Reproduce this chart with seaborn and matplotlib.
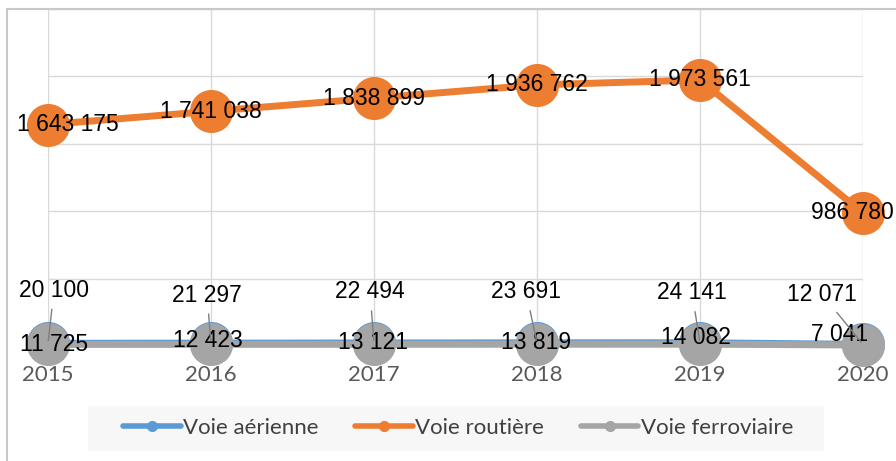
import matplotlib
matplotlib.use("Agg")
import matplotlib.pyplot as plt
import seaborn as sns
import pandas as pd
from matplotlib.lines import Line2D
from matplotlib.patches import Rectangle

years = ["2015", "2016", "2017", "2018", "2019", "2020"]
series_names = ["Voie aérienne", "Voie routière", "Voie ferroviaire"]
aerienne = [20100, 21297, 22494, 23691, 24141, 12071]
routiere = [1643175, 1741038, 1838899, 1936762, 1973561, 986780]
ferroviaire = [11725, 12423, 13121, 13819, 14082, 7041]
colors = ["#5B9BD5", "#ED7D31", "#A5A5A5"]

# label offsets in pixels (layout only)
off_aer = [(6, 53), (-4, 48), (-4, 51), (-11, 51), (-8, 50), (-41, 50)]
off_rou = [(20, 0), (0, 0), (0, 0), (0, 0), (0, 0), (-11, 0)]
off_fer = [(6, 0), (-3, 4), (-1, 2), (-1, 2), (-4, 7), (-23, 11)]

W, H = 896, 461
sns.set_theme(style="white")
plt.rcParams["font.family"] = ["Liberation Sans", "DejaVu Sans"]

fig = plt.figure(figsize=(W / 100, H / 100), dpi=100)
ax = fig.add_axes([48 / W, 1 - 346 / H, (863 - 48) / W, (346 - 9) / H])

rows = []
for name, vals in zip(series_names, [aerienne, routiere, ferroviaire]):
    for i, v in enumerate(vals):
        rows.append({"pos": i, "val": v, "serie": name})
df = pd.DataFrame(rows)

sns.lineplot(data=df, x="pos", y="val", hue="serie", hue_order=series_names,
             palette=colors, marker="o", markersize=31, linewidth=5,
             markeredgewidth=0, ax=ax, legend=False, clip_on=False, zorder=3)

ax.set_xlim(0, 5)
ax.set_ylim(0, 2500000)
ax.set_yticks(range(0, 2500001, 500000))
ax.set_yticklabels([])
ax.set_xticks(range(6))
ax.set_xticklabels(years, fontsize=16, color="#595959", family=["Lato", "DejaVu Sans"])
ax.tick_params(axis="x", length=0, pad=14)
ax.tick_params(axis="y", length=0)
ax.set_xlabel("")
ax.set_ylabel("")
ax.grid(True, color="#d9d9d9", linewidth=1)
for s in ["top", "right", "left"]:
    ax.spines[s].set_visible(False)
ax.spines["bottom"].set_color("#7f7f7f")
ax.spines["bottom"].set_linewidth(1)

def fmt(v):
    return f"{v:,}".replace(",", " ")

for i, v in enumerate(routiere):
    dx, dy = off_rou[i]
    ax.annotate(fmt(v), xy=(i, v), xytext=(dx, dy), textcoords="offset pixels",
                ha="center", va="center", fontsize=16.5, color="black", zorder=6)
for i, v in enumerate(ferroviaire):
    dx, dy = off_fer[i]
    ax.annotate(fmt(v), xy=(i, v), xytext=(dx, dy), textcoords="offset pixels",
                ha="center", va="center", fontsize=16.5, color="black", zorder=6)
for i, v in enumerate(aerienne):
    dx, dy = off_aer[i]
    ax.annotate(fmt(v), xy=(i, v), xytext=(dx, dy), textcoords="offset pixels",
                ha="center", va="center", fontsize=16.5, color="black", zorder=6,
                arrowprops=dict(arrowstyle="-", color="#7f7f7f", lw=1,
                                shrinkA=3, shrinkB=2))

# outer chart border (left and top)
fig.add_artist(Line2D([7 / W, 7 / W], [0, 1 - 9 / H], color="#c8c8c8", lw=1.5))
fig.add_artist(Line2D([7 / W, 1], [1 - 9 / H, 1 - 9 / H], color="#c8c8c8", lw=1.5))

# legend background
fig.add_artist(Rectangle((88 / W, 1 - 451 / H), (824 - 88) / W, 45 / H,
                         transform=fig.transFigure, facecolor="#f7f7f7",
                         edgecolor="none", zorder=0))
handles = [Line2D([0], [0], color=c, lw=4, marker="o", markersize=7,
                  solid_capstyle="round") for c in colors]
leg = fig.legend(handles, series_names, loc="center",
                 bbox_to_anchor=(458 / W, 1 - 428 / H), ncol=3, frameon=False,
                 handlelength=2.6, handletextpad=0.1, columnspacing=1.65,
                 prop={"family": ["Lato", "DejaVu Sans"], "size": 16})
for t in leg.get_texts():
    t.set_color("#404040")

fig.savefig("out.png", dpi=100)
